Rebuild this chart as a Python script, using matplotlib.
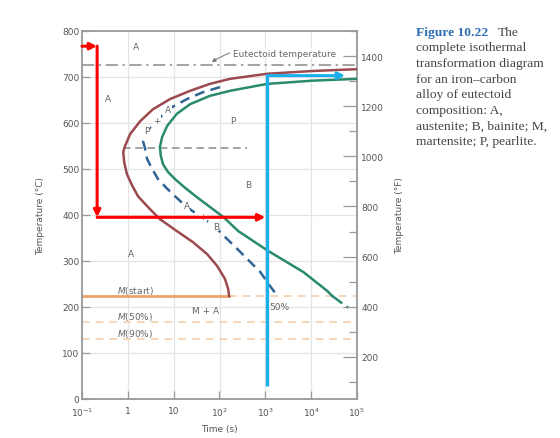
import numpy as np
import matplotlib
matplotlib.use("Agg")
import matplotlib.pyplot as plt

# log10(time in s) and temperature (degC)
start_logt = [5.0, 4.02, 3.04, 2.23, 1.79, 1.36, 0.92, 0.55, 0.27, 0.05, -0.06, -0.10,
              -0.08, -0.02, 0.09, 0.22, 0.48, 0.70, 1.07, 1.42, 1.73, 1.95, 2.12, 2.19, 2.21]
start_T = [717, 713, 707, 696, 685, 670, 652, 630, 604, 576, 550, 537,
           515, 489, 465, 441, 413, 391, 365, 341, 315, 289, 261, 239, 224]

end_logt = [5.0, 4.02, 3.04, 2.23, 1.79, 1.36, 1.07, 0.86, 0.75, 0.70, 0.72, 0.77,
            0.88, 1.03, 1.25, 1.53, 2.08, 2.41, 3.06, 3.83, 4.35, 4.46]
end_T = [696, 692, 685, 670, 659, 641, 620, 594, 570, 548, 528, 510,
         493, 478, 459, 437, 396, 365, 322, 276, 235, 224]
end_tail_logt = [4.46, 4.81]
end_tail_T = [224, 198]

half_logt = [2.01, 1.64, 1.29, 0.88, 0.64, 0.42, 0.33, 0.38, 0.42, 0.53, 0.66, 0.86,
             1.07, 1.29, 1.64, 1.90, 2.45, 2.89, 3.10, 3.28]
half_T = [678, 667, 652, 630, 606, 583, 561, 543, 522, 500, 478, 457,
          437, 417, 393, 374, 320, 276, 246, 222]

eutectoid_T = 727
nose_line_T = 545
nose_line_logt = [-0.1, 2.6]
m_start_T = 223
m50_T = 167
m90_T = 130
m_start_end_logt = 2.21

# arrows drawn on top of the textbook figure
red_path_logt = [-1.0, -0.67, 3.0]
red_path_T = [767, 395]
blue_path_logt = [3.04, 4.74]
blue_path_T = [28, 703]

xticks = [0.1, 1, 10, 100, 1e3, 1e4, 1e5]
xtick_labels = ["$10^{-1}$", "1", "10", "$10^{2}$", "$10^{3}$", "$10^{4}$", "$10^{5}$"]

brown = "#9b4a50"
green = "#2a8a6c"
dblue = "#2f6496"
orange = "#e9a469"
lorange = "#f2caa4"
gray = "#8a8a8a"
tcol = "#555555"


def t(v):
    return 10 ** np.asarray(v, dtype=float)


fig = plt.figure(figsize=(5.6, 4.39), dpi=100)
ax = fig.add_axes([82 / 560, 1 - 400 / 439, 275 / 560, 368 / 439])
ax.set_xscale("log")
ax.set_xlim(0.1, 1e5)
ax.set_ylim(0, 800)

# grid
for xv in xticks[1:-1]:
    ax.axvline(xv, color="#e4e4e4", lw=0.9, zorder=0)
for yv in range(100, 800, 100):
    ax.axhline(yv, color="#e4e4e4", lw=0.9, zorder=0)

# martensite lines
ax.plot([0.1, t(m_start_end_logt)], [m_start_T] * 2, color=orange, lw=2, zorder=2)
ax.plot([t(m_start_end_logt), 1e5], [m_start_T] * 2, color=lorange, lw=1.1, ls=(0, (5, 4)), zorder=2)
ax.axhline(m50_T, color=lorange, lw=1.1, ls=(0, (5, 4)), zorder=2)
ax.axhline(m90_T, color=lorange, lw=1.1, ls=(0, (5, 4)), zorder=2)

# eutectoid and nose lines
ax.axhline(eutectoid_T, color=gray, lw=1.1, ls=(0, (8, 3, 1.5, 3)), zorder=2)
ax.plot(t(nose_line_logt), [nose_line_T] * 2, color=gray, lw=1.1, ls=(0, (5, 3)), zorder=2)

# transformation curves
ax.plot(t(start_logt), start_T, color=brown, lw=1.8, zorder=3, solid_joinstyle="round")
ax.plot(t(end_logt), end_T, color=green, lw=1.8, zorder=3, solid_joinstyle="round")
ax.plot(t(end_tail_logt), end_tail_T, color=green, lw=1.8, ls=(0, (5, 2)), zorder=3)
ax.plot(t(half_logt), half_T, color=dblue, lw=1.8, ls=(0, (4, 2.5)), zorder=3)

# region labels
lab = dict(fontsize=6.5, color="#666666", ha="center", va="center", zorder=4)
ax.text(t(0.18), 767, "A", **lab)
ax.text(t(-0.43), 654, "A", **lab)
ax.text(t(2.3), 606, "P", **lab)
ax.text(t(2.62), 467, "B", **lab)
ax.text(t(0.07), 317, "A", **lab)
ax.text(t(1.69), 193, "M + A", **lab)
bb = dict(boxstyle="square,pad=0.05", fc="white", ec="none")
ax.text(t(0.42), 583, "P", bbox=bb, **lab)
ax.text(t(0.64), 606, "+", bbox=bb, **lab)
ax.text(t(0.88), 630, "A", bbox=bb, **lab)
ax.text(t(1.29), 420, "A", bbox=bb, **lab)
ax.text(t(1.64), 396, "+", bbox=bb, **lab)
ax.text(t(1.92), 376, "B", bbox=bb, **lab)
ax.text(t(3.30), 202, "50%", **lab)
ax.text(t(0.16), 237, "$M$(start)", **lab)
ax.text(t(0.16), 180, "$M$(50%)", **lab)
ax.text(t(0.16), 143, "$M$(90%)", **lab)
ax.annotate("Eutectoid temperature", xy=(t(1.78), eutectoid_T + 2), xytext=(t(2.3), 752),
            fontsize=6.5, color="#666666", va="center", ha="left",
            bbox=dict(boxstyle="square,pad=0.1", fc="white", ec="none"),
            arrowprops=dict(arrowstyle="-|>", color="#777777", lw=0.7,
                            connectionstyle="arc3,rad=0.25", mutation_scale=6))

# red arrows
arrow_kw = dict(arrowstyle="-|>", color="red", lw=2.2, mutation_scale=10, shrinkA=0, shrinkB=0)
ax.annotate("", xy=(t(red_path_logt[1]), red_path_T[0]), xytext=(t(red_path_logt[0]), red_path_T[0]),
            arrowprops=arrow_kw, zorder=6)
ax.annotate("", xy=(t(red_path_logt[1]), red_path_T[1]), xytext=(t(red_path_logt[1]), red_path_T[0]),
            arrowprops=arrow_kw, zorder=6)
ax.annotate("", xy=(t(red_path_logt[2]), red_path_T[1]), xytext=(t(red_path_logt[1]), red_path_T[1]),
            arrowprops=arrow_kw, zorder=6)

# blue arrows
ax.plot([t(blue_path_logt[0])] * 2, blue_path_T, color="#1ab0ee", lw=2.4, zorder=6,
        solid_capstyle="butt")
ax.annotate("", xy=(t(blue_path_logt[1]), blue_path_T[1]), xytext=(t(blue_path_logt[0]), blue_path_T[1]),
            arrowprops=dict(arrow_kw, color="#1ab0ee"), zorder=6)

# axes styling
for s in ax.spines.values():
    s.set_color("#999999")
    s.set_linewidth(1.3)
ax.set_xticks(xticks)
ax.set_xticklabels(xtick_labels)
ax.xaxis.set_minor_locator(matplotlib.ticker.NullLocator())
ax.set_yticks(range(0, 801, 100))
ax.tick_params(direction="in", length=6, width=0.9, color="#999999", labelsize=6.5,
               labelcolor=tcol, pad=2)
ax.tick_params(axis="x", pad=5)
ax.set_xlabel("Time (s)", fontsize=6.5, color=tcol, labelpad=4)
ax.set_ylabel("Temperature (\u00b0C)", fontsize=6.5, color=tcol, labelpad=12)

ax2 = ax.twinx()
ax2.set_ylim(0 * 9 / 5 + 32, 800 * 9 / 5 + 32)
ax2.set_yticks(range(200, 1401, 200))
ax2.set_yticks(range(100, 1501, 200), minor=True)
ax2.tick_params(which="both", direction="in", width=0.9, color="#999999", labelsize=6.5,
                labelcolor=tcol, pad=3)
ax2.tick_params(which="major", length=10)
ax2.tick_params(which="minor", length=6)
for s in ax2.spines.values():
    s.set_visible(False)
ax2.set_ylabel("Temperature (\u00b0F)", fontsize=6.5, color=tcol, labelpad=8)

# caption
W, H = 560, 439
serif = "Liberation Serif"
fig.text(416 / W, 1 - 33 / H, "Figure 10.22", fontsize=9.7, family=serif, weight="bold",
         color="#2e6cb3", va="center", ha="left")
fig.text(498 / W, 1 - 33 / H, "The", fontsize=9.7, family=serif, color="#444444",
         va="center", ha="left")
caption = ["complete isothermal", "transformation diagram", "for an iron\u2013carbon",
           "alloy of eutectoid", "composition: A,", "austenite; B, bainite; M,",
           "martensite; P, pearlite."]
for i, line in enumerate(caption):
    fig.text(416 / W, 1 - (48.5 + 15.6 * i) / H, line, fontsize=9.7, family=serif,
             color="#444444", va="center", ha="left")

fig.savefig("out.png", dpi=100)
